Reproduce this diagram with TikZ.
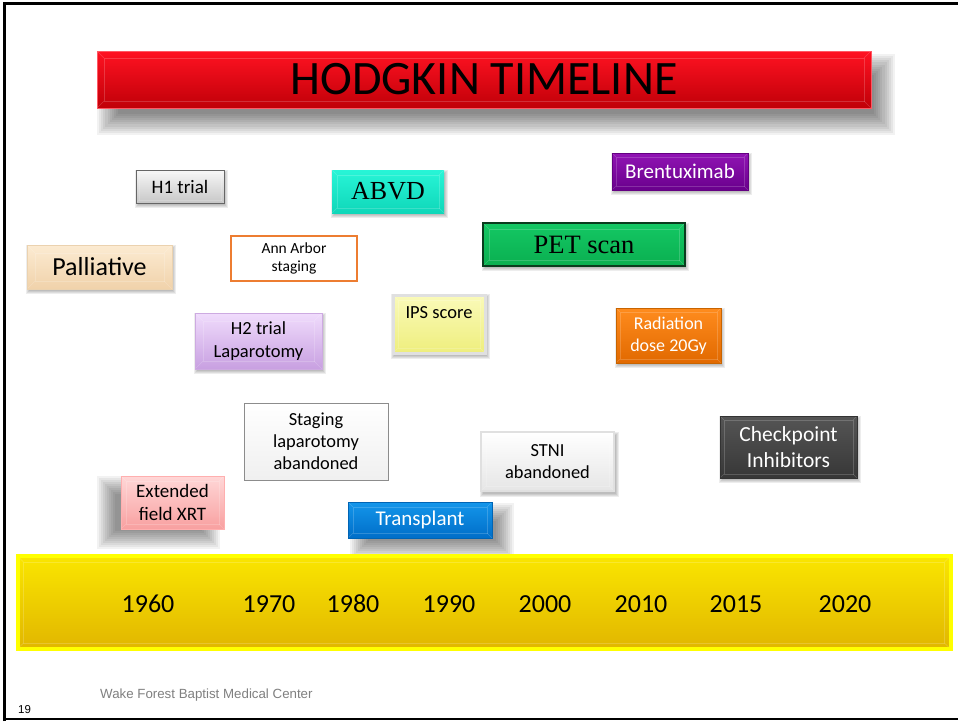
\documentclass[tikz,border=0pt]{standalone}
\usepackage{fontspec}
\setmainfont{Carlito}
\newfontfamily\serifgar{Liberation Serif}
\newfontfamily\arialf{Liberation Sans}
\usetikzlibrary{calc}
\pgfdeclarelayer{background}
\pgfsetlayers{background,main}
\definecolor{titletop}{HTML}{FF1222}
\definecolor{titlebot}{HTML}{C00008}
\definecolor{annorange}{HTML}{ED7D31}
\newcommand\myfs[1]{\fontsize{#1}{\the\dimexpr #1pt*12/10\relax}\selectfont}
% soft shadow behind a node: node, dx, dy, radius, steps, opacity per step
\newcommand\nshadow[6]{%
  \path (#1.north west) coordinate (shA) (#1.south east) coordinate (shB);
  \foreach \i in {0,...,#5}{%
    \pgfmathsetmacro\kk{-#4+\i*2*#4/(#5+1)}%
    \fill[black, opacity=#6] ($(shA)+(#2,#3)+(\kk,\kk)$) rectangle ($(shB)+(#2,#3)-(\kk,\kk)$);
  }}
\tikzset{
  x=1pt,y=-1pt,
  evbox/.style={draw, line width=0.8pt, align=center, inner sep=2pt, shading=axis, shading angle=0},
  bevel/.style={path picture={
    \coordinate (pa) at (path picture bounding box.north west);
    \coordinate (pb) at (path picture bounding box.south east);
    \coordinate (pc) at (path picture bounding box.north east);
    \coordinate (pd) at (path picture bounding box.south west);
    \draw[white, opacity=.18, line width=.8pt] ($(pa)+(#1,#1)$) rectangle ($(pb)-(#1,#1)$);
    \draw[white, opacity=.18, line width=.6pt] (pa) -- ($(pa)+(#1,#1)$) (pb) -- ($(pb)-(#1,#1)$)
       (pc) -- ($(pc)+(-#1,#1)$) (pd) -- ($(pd)+(#1,-#1)$);}},
  bevel/.default=5,
  fs/.style={font=\myfs{#1}},
}
\begin{document}
\begin{tikzpicture}
\useasboundingbox (0,0) rectangle (958,721);
% frame
\draw[line width=3pt] (4,721) -- (4,3) -- (958,3);
\draw[line width=1.5pt] (4,719) -- (958,719);

% title
\node[evbox, draw=titletop!70, top color=titletop, bottom color=titlebot, minimum width=774, minimum height=57, bevel=7,
  fs=48] (title) at (484,79.5) {HODGKIN TIMELINE};

% events
\node[evbox, draw=black!60, top color=black!3, bottom color=black!22, minimum width=88, minimum height=33, bevel=3, fs=19] (h1) at (180,186.5) {H1 trial};
\node[evbox, draw=none, top color={rgb,255:red,40;green,245;blue,215}, bottom color={rgb,255:red,15;green,215;blue,185}, minimum width=112, minimum height=43, bevel, font=\serifgar\myfs{26}] (abvd) at (388,191.5) {ABVD};
\node[evbox, draw={rgb,255:red,100;green,0;blue,130}, top color={rgb,255:red,145;green,20;blue,180}, bottom color={rgb,255:red,105;green,0;blue,140}, minimum width=136, minimum height=37, bevel=4, text=white, fs=21] (bren) at (680,171.5) {Brentuximab};
\node[evbox, draw={rgb,255:red,10;green,60;blue,30}, line width=1.2pt, top color={rgb,255:red,20;green,200;blue,100}, bottom color={rgb,255:red,10;green,175;blue,80}, minimum width=202, minimum height=43, bevel=6, font=\serifgar\myfs{26.5}] (pet) at (584,244.5) {PET scan};
\node[evbox, draw={rgb,255:red,235;green,210;blue,175}, top color={rgb,255:red,252;green,235;blue,210}, bottom color={rgb,255:red,240;green,210;blue,170}, minimum width=145, minimum height=44, bevel=8, fs=26] (pall) at (99.5,267) {Palliative};
\node[draw=annorange, line width=2pt, fill=white, align=center, inner sep=2pt, minimum width=126, minimum height=45, fs=15.5] (ann) at (294,258.5) {Ann Arbor\\staging};
\node[evbox, draw={rgb,255:red,205;green,170;blue,225}, top color={rgb,255:red,240;green,220;blue,252}, bottom color={rgb,255:red,200;green,160;blue,225}, minimum width=127, minimum height=56, bevel=8, fs=18.5] (h2) at (258.5,341) {H2 trial\\Laparotomy};
\node[evbox, draw=black!12, line width=3pt, top color={rgb,255:red,250;green,250;blue,185}, bottom color={rgb,255:red,238;green,238;blue,125}, minimum width=92, minimum height=58, bevel=5] (ips) at (439,324) {};
\node[fs=18.5] (ipstext) at (439,313) {IPS score};
\node[evbox, draw={rgb,255:red,200;green,100;blue,0}, top color={rgb,255:red,255;green,140;blue,30}, bottom color={rgb,255:red,225;green,105;blue,0}, minimum width=105, minimum height=55, bevel=4, text=white, fs=18] (rad) at (668.5,335.5) {Radiation\\dose 20Gy};
\node[evbox, draw=black!45, top color=white, bottom color=black!6, minimum width=144, minimum height=77, fs=18.4] (stlap) at (316,441.5) {Staging\\laparotomy\\abandoned};
\node[evbox, draw=black!12, line width=2pt, top color=white, bottom color=black!10, minimum width=133, minimum height=59, bevel=5, fs=18.4] (stni) at (547.5,461.5) {STNI\\abandoned};
\node[evbox, draw=black!80, top color={rgb,255:red,85;green,85;blue,85}, bottom color={rgb,255:red,55;green,55;blue,55}, minimum width=137, minimum height=62, bevel=4, text=white, fs=21.5] (chk) at (788.5,447) {Checkpoint\\Inhibitors};
\node[evbox, draw={rgb,255:red,255;green,175;blue,175}, top color={rgb,255:red,255;green,215;blue,215}, bottom color={rgb,255:red,248;green,160;blue,160}, minimum width=103, minimum height=53, bevel=5, fs=19] (ext) at (172.5,502.5) {Extended\\field XRT};
\node[evbox, draw={rgb,255:red,0;green,100;blue,180}, top color={rgb,255:red,20;green,150;blue,235}, bottom color={rgb,255:red,0;green,110;blue,200}, minimum width=144, minimum height=36, bevel=5, text=white, fs=21] (trans) at (420,520) {Transplant};

% timeline bar
\node[draw={rgb,255:red,255;green,255;blue,0}, line width=4pt, top color={rgb,255:red,250;green,230;blue,0}, bottom color={rgb,255:red,225;green,182;blue,0}, shading angle=0, minimum width=933, minimum height=93, bevel=6] (bar) at (484,602.5) {};
\foreach \yr/\xx in {1960/148,1970/269,1980/353,1990/449,2000/545,2010/641,2015/736,2020/845}
  \node[fs=26] (y\yr) at (\xx,604) {\yr};

% shadows
\begin{pgfonlayer}{background}
  \fill[white] (0,0) rectangle (958,721);
  \nshadow{title}{12}{15}{12}{10}{0.05}
  \nshadow{ext}{-14}{10}{10}{9}{0.05}
  \nshadow{trans}{12}{11}{10}{9}{0.05}
  \foreach \n in {h1,abvd,bren,pet,pall,h2,ips,rad,stni,chk}{\nshadow{\n}{1.5}{2.5}{2}{3}{0.07}}
\end{pgfonlayer}

% footer
\node[font=\arialf\myfs{13.3}, text=black!50, anchor=west, inner sep=0] (foot) at (100,695) {Wake Forest Baptist Medical Center};
\node[font=\arialf\myfs{11.5}, anchor=west, inner sep=0] (pg) at (18,710) {19};
\end{tikzpicture}
\end{document}
